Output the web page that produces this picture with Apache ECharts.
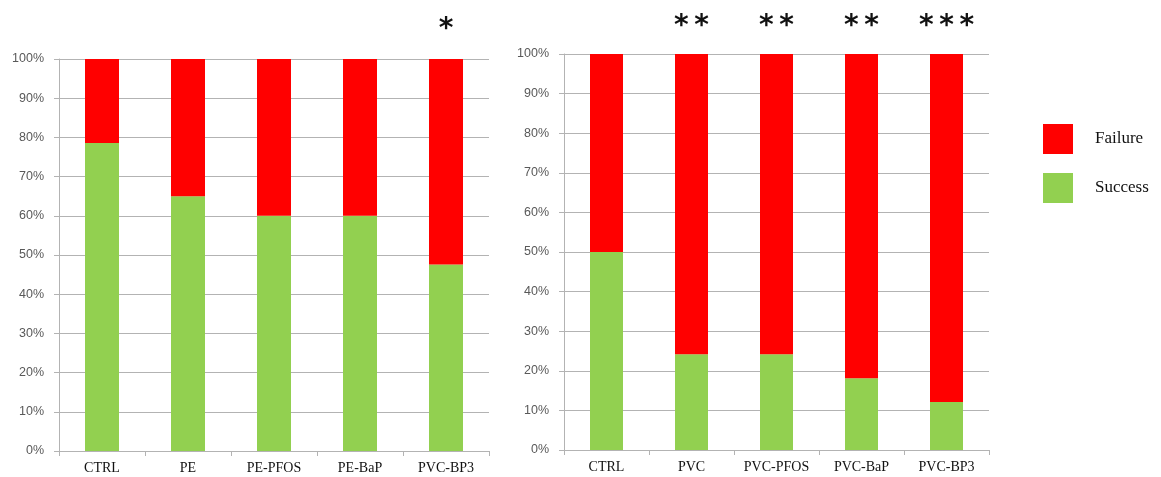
<!DOCTYPE html>
<html>
<head>
<meta charset="utf-8">
<script src="https://cdn.jsdelivr.net/npm/echarts@6/dist/echarts.min.js"></script>
<style>
  html, body { margin: 0; padding: 0; background: #fff; }
  #chart { width: 1161px; height: 477px; }
</style>
</head>
<body>
<div id="chart"></div>
<script>
// left panel (PE)
const leftCategories = ["CTRL", "PE", "PE-PFOS", "PE-BaP", "PVC-BP3"];
const leftSuccess = [78.6, 65, 60, 60, 47.6];
const leftFailure = [21.4, 35, 40, 40, 52.4];
const leftStars = ["", "", "", "", "*"];

// right panel (PVC)
const rightCategories = ["CTRL", "PVC", "PVC-PFOS", "PVC-BaP", "PVC-BP3"];
const rightSuccess = [50, 24.2, 24.2, 18.1, 12.1];
const rightFailure = [50, 75.8, 75.8, 81.9, 87.9];
const rightStars = ["", "**", "**", "**", "***"];

const RED = "#ff0000";
const GREEN = "#92d050";
const GRID_COLOR = "#b3b3b3";

const chart = echarts.init(document.getElementById("chart"));

function catAxis(idx, data) {
  return {
    type: "category",
    gridIndex: idx,
    data: data,
    axisLine: { lineStyle: { color: GRID_COLOR } },
    axisTick: { show: true, length: 5, lineStyle: { color: GRID_COLOR } },
    axisLabel: {
      interval: 0,
      hideOverlap: false,
      color: "#111",
      fontFamily: "Liberation Serif",
      fontSize: 14,
      margin: 10,
    },
  };
}

function valAxis(idx) {
  return {
    type: "value",
    gridIndex: idx,
    min: 0,
    max: 100,
    interval: 10,
    axisLine: { show: true, lineStyle: { color: GRID_COLOR } },
    axisTick: { show: true, length: 5, lineStyle: { color: GRID_COLOR } },
    axisLabel: {
      color: "#595959",
      fontFamily: "Liberation Sans",
      fontSize: 12.5,
      margin: 15,
      formatter: "{value}%",
    },
    splitLine: { lineStyle: { color: GRID_COLOR, width: 1 } },
  };
}

// significance stars sit on top of the red (Failure) segment
function starLabel(stars, dist) {
  return {
    show: true,
    position: "top",
    distance: dist,
    color: "#111",
    fontFamily: "DejaVu Sans",
    fontWeight: "bold",
    fontSize: 28,
    formatter: (p) => stars[p.dataIndex].split("").join("\u2009"),
  };
}

const option = {
  animation: false,
  legend: {
    orient: "vertical",
    left: 1038,
    top: 119,
    itemWidth: 30,
    itemHeight: 30,
    itemGap: 19,
    icon: "rect",
    data: ["Failure", "Success"],
    textStyle: {
      color: "#111",
      fontFamily: "Liberation Serif",
      fontSize: 17,
      padding: [0, 0, 0, 17],
    },
  },
  grid: [
    { left: 59, top: 59, width: 430, height: 392 },
    { left: 564, top: 54, width: 425, height: 396 },
  ],
  xAxis: [catAxis(0, leftCategories), catAxis(1, rightCategories)],
  yAxis: [valAxis(0), valAxis(1)],
  series: [
    {
      name: "Success",
      type: "bar",
      stack: "left",
      xAxisIndex: 0,
      yAxisIndex: 0,
      barWidth: 34,
      itemStyle: { color: GREEN },
      data: leftSuccess,
    },
    {
      name: "Failure",
      type: "bar",
      stack: "left",
      xAxisIndex: 0,
      yAxisIndex: 0,
      barWidth: 34,
      itemStyle: { color: RED },
      label: starLabel(leftStars, 15),
      data: leftFailure,
    },
    {
      name: "Success",
      type: "bar",
      stack: "right",
      xAxisIndex: 1,
      yAxisIndex: 1,
      barWidth: 33,
      itemStyle: { color: GREEN },
      data: rightSuccess,
    },
    {
      name: "Failure",
      type: "bar",
      stack: "right",
      xAxisIndex: 1,
      yAxisIndex: 1,
      barWidth: 33,
      itemStyle: { color: RED },
      label: starLabel(rightStars, 13),
      data: rightFailure,
    },
  ],
};

chart.setOption(option);
</script>
</body>
</html>
